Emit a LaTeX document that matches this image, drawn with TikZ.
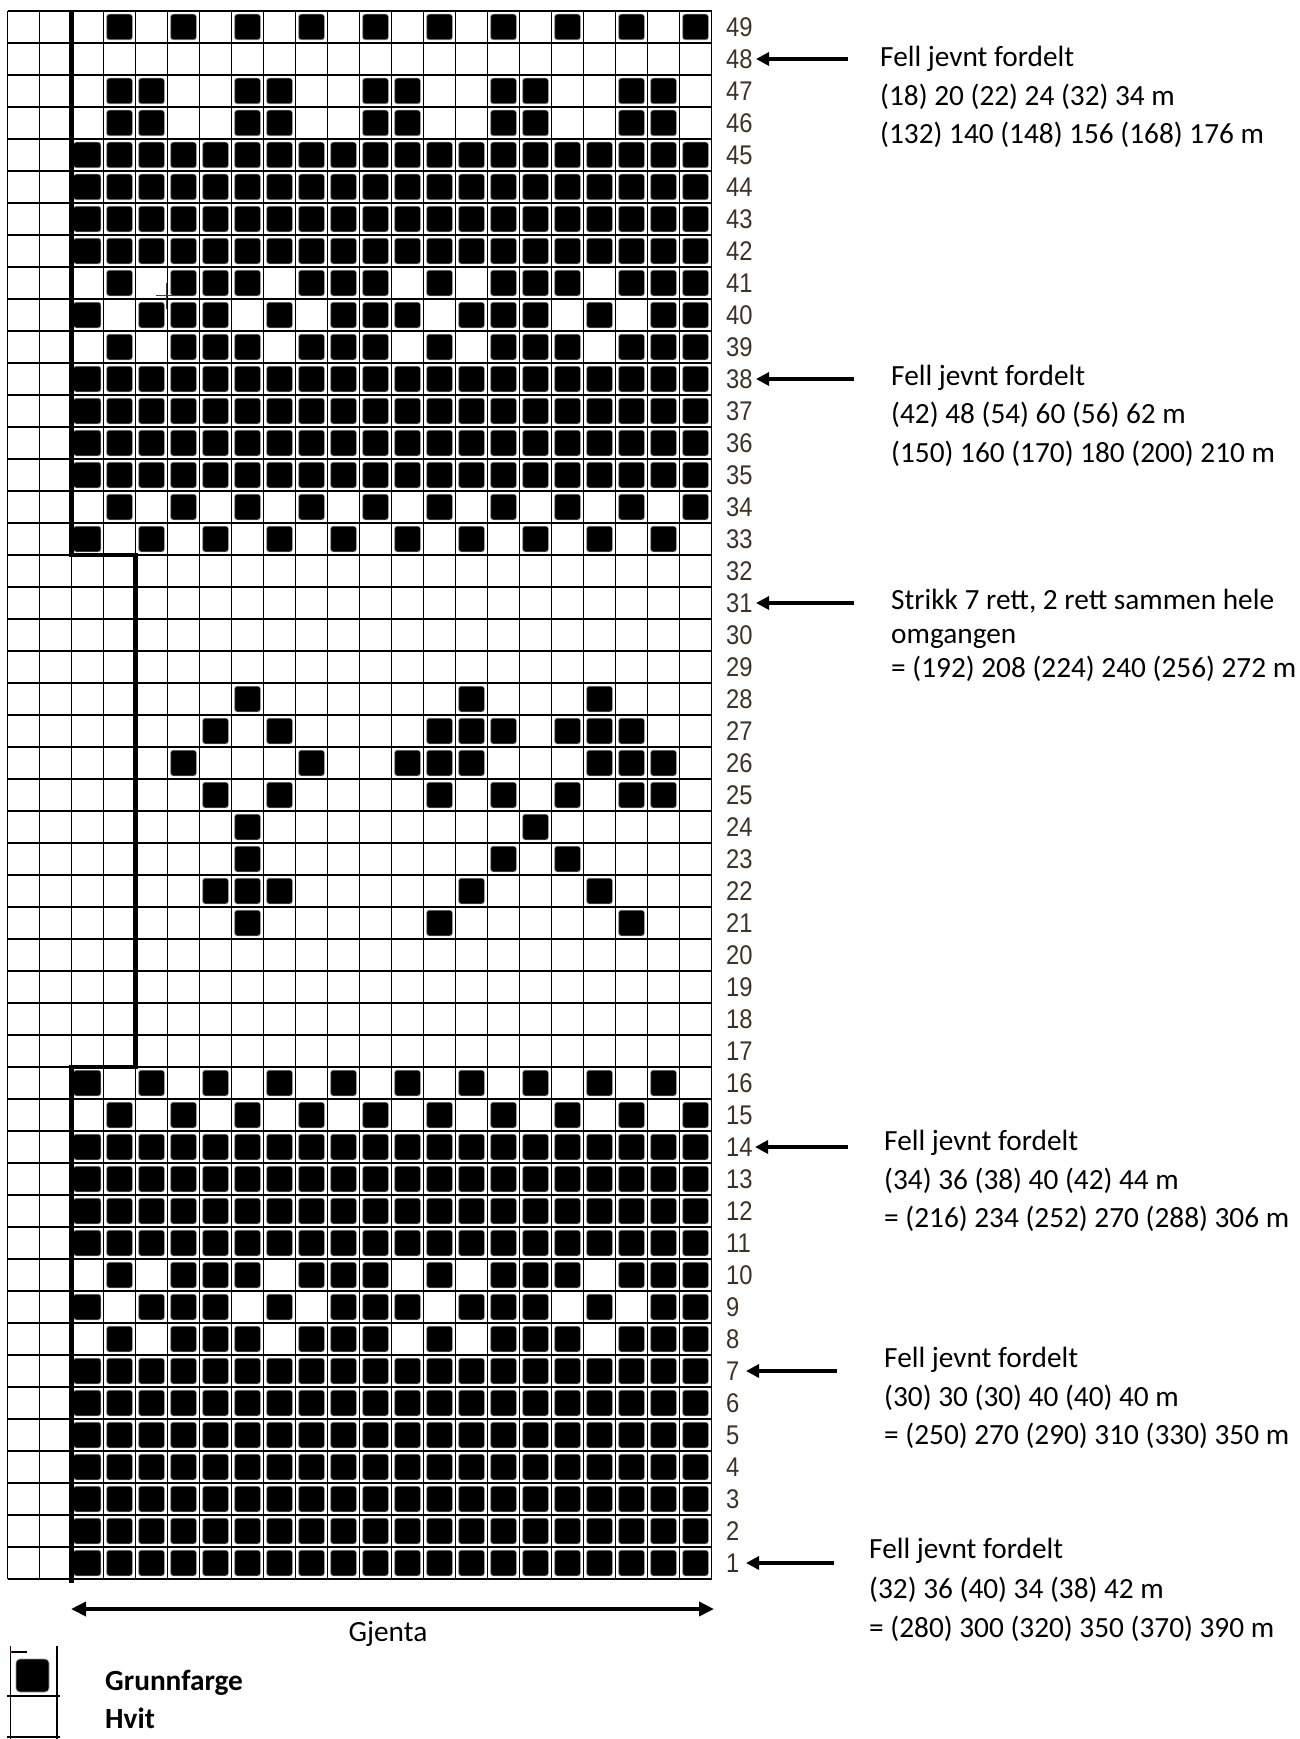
\documentclass[tikz,border=0pt]{standalone}
\usepackage{fontspec}
\setmainfont{Carlito}
\newfontfamily\numfont[FakeStretch=0.88]{Liberation Sans}
\usetikzlibrary{arrows.meta}
\definecolor{numcol}{RGB}{62,50,38}

\newcommand\stitchcell[2]{%
  \pgfmathsetmacro\stx{7.5+(#2+1)*32+3.2}%
  \pgfmathsetmacro\sty{11+(49-#1)*32+3.2}%
  \ifnum#2=1
    \path[stitch] (73.6,\sty) rectangle ++(27.2,25.6);
  \else
    \path[stitch] (\stx,\sty) rectangle ++(25.6,25.6);
  \fi}
\newcommand\stitchrow[2]{\foreach \p in {#2}{\stitchcell{#1}{\p}}}

\begin{document}
\begin{tikzpicture}[x=1pt,y=-1pt,
  gridline/.style={line width=1.5pt, black},
  chartedge/.style={line width=4.6pt, black},
  stitch/.style={fill=black, draw=black!40, line width=0.6pt, rounded corners=2.5pt},
  rownum/.style={anchor=west, inner sep=0pt, font=\numfont\fontsize{27}{27}\selectfont, text=numcol},
  note/.style={anchor=base west, inner sep=0pt, font=\fontsize{29.3}{35}\selectfont},
  legendtext/.style={anchor=base west, inner sep=0pt, font=\bfseries\fontsize{29.3}{35}\selectfont},
  pointer/.style={line width=3.2pt, -{Triangle[length=13pt,width=13pt]}},
  repeatarrow/.style={line width=3.6pt, {Triangle[length=15pt,width=14pt]}-{Triangle[length=15pt,width=14pt]}},
  legendline/.style={line width=1.5pt, black},
]
\fill[white] (0,0) rectangle (1299,1739);
\useasboundingbox (0,0) rectangle (1299,1739);

% ---------- stitches ----------
\stitchrow{49}{2,4,...,20}
\stitchrow{47}{2,3,6,7,10,11,14,15,18,19}
\stitchrow{46}{2,3,6,7,10,11,14,15,18,19}
\foreach \r in {42,...,45} {\stitchrow{\r}{1,...,20}}
\stitchrow{41}{2,4,5,6,8,9,10,12,14,15,16,18,19,20}
\stitchrow{40}{1,3,4,5,7,9,10,11,13,14,15,17,19,20}
\stitchrow{39}{2,4,5,6,8,9,10,12,14,15,16,18,19,20}
\foreach \r in {35,...,38} {\stitchrow{\r}{1,...,20}}
\stitchrow{34}{2,4,...,20}
\stitchrow{33}{1,3,...,19}
\stitchrow{28}{6,13,17}
\stitchrow{27}{5,7,12,13,14,16,17,18}
\stitchrow{26}{4,8,11,12,13,17,18,19}
\stitchrow{25}{5,7,12,14,16,18,19}
\stitchrow{24}{6,15}
\stitchrow{23}{6,14,16}
\stitchrow{22}{5,6,7,13,17}
\stitchrow{21}{6,12,18}
\stitchrow{16}{1,3,...,19}
\stitchrow{15}{2,4,...,20}
\foreach \r in {11,...,14} {\stitchrow{\r}{1,...,20}}
\stitchrow{10}{2,4,5,6,8,9,10,12,14,15,16,18,19,20}
\stitchrow{9}{1,3,4,5,7,9,10,11,13,14,15,17,19,20}
\stitchrow{8}{2,4,5,6,8,9,10,12,14,15,16,18,19,20}
\foreach \r in {1,...,7} {\stitchrow{\r}{1,...,20}}

% ---------- grid ----------
\foreach \i in {0,...,22} {\draw[gridline] ({7.5+\i*32},11) -- ({7.5+\i*32},1579);}
\foreach \j in {0,...,49} {\draw[gridline] (7.5,{11+\j*32}) -- (711.5,{11+\j*32});}

% ---------- repeat edge ----------
\draw[chartedge] (71.5,11) -- (71.5,555) -- (135.5,555) -- (135.5,1067) -- (71.5,1067) -- (71.5,1583);

% cursor cross
\draw[line width=0.9pt, black!75] (166.5,283) -- (166.5,309);
\draw[line width=0.9pt, black!75] (155.5,295.5) -- (177.5,295.5);

% ---------- row numbers ----------
\foreach \r in {1,...,49} {\node[rownum] (n\r) at (726,{27+(49-\r)*32}) {\r};}

% ---------- notes ----------
\node[note] (t48a) at (880,67) {Fell jevnt fordelt};
\node[note] (t48b) at (880,106) {(18) 20 (22) 24 (32) 34 m};
\node[note] (t48c) at (880,144) {(132) 140 (148) 156 (168) 176 m};

\node[note] (t38a) at (891,385) {Fell jevnt fordelt};
\node[note] (t38b) at (891,423) {(42) 48 (54) 60 (56) 62 m};
\node[note] (t38c) at (891,462) {(150) 160 (170) 180 (200) 210 m};

\node[note] (t31a) at (891,609) {Strikk 7 rett, 2 rett sammen hele};
\node[note] (t31b) at (891,643) {omgangen};
\node[note] (t31c) at (891,677) {= (192) 208 (224) 240 (256) 272 m};

\node[note] (t14a) at (884,1150) {Fell jevnt fordelt};
\node[note] (t14b) at (884,1189) {(34) 36 (38) 40 (42) 44 m};
\node[note] (t14c) at (884,1227) {= (216) 234 (252) 270 (288) 306 m};

\node[note] (t7a) at (884,1367) {Fell jevnt fordelt};
\node[note] (t7b) at (884,1406) {(30) 30 (30) 40 (40) 40 m};
\node[note] (t7c) at (884,1444) {= (250) 270 (290) 310 (330) 350 m};

\node[note] (t1a) at (869,1558) {Fell jevnt fordelt};
\node[note] (t1b) at (869,1598) {(32) 36 (40) 34 (38) 42 m};
\node[note] (t1c) at (869,1637) {= (280) 300 (320) 350 (370) 390 m};

% ---------- pointers ----------
\coordinate (s48) at (848,59);   \coordinate (h48) at (756,59);
\coordinate (s38) at (854,379);  \coordinate (h38) at (756,379);
\coordinate (s31) at (854,603);  \coordinate (h31) at (756,603);
\coordinate (s14) at (848,1147); \coordinate (h14) at (755,1147);
\coordinate (s7) at (837,1371);  \coordinate (h7) at (746,1371);
\coordinate (s1) at (834,1563);  \coordinate (h1) at (746,1563);
\foreach \k in {48,38,31,14,7,1} {\draw[pointer] (s\k) -- (h\k);}

% ---------- repeat arrow ----------
\coordinate (gl) at (71,1609);
\coordinate (gr) at (714,1609);
\draw[repeatarrow] (gl) -- (gr);
\node[inner sep=0pt, font=\fontsize{29.3}{35}\selectfont] (gjenta) at (388,1634) {Gjenta};

% ---------- legend ----------
\draw[legendline] (10.5,1646) -- (10.5,1739);
\draw[legendline] (57,1646) -- (57,1739);
\draw[legendline] (10.5,1652) -- (27,1652);
\draw[legendline] (7,1696) -- (60,1696);
\draw[legendline] (7,1737) -- (60,1737);
\fill[red] (11,1652) circle (1.2);
\path[stitch, rounded corners=4pt] (16,1659) rectangle (49,1692);
\node[legendtext] (lg1) at (105,1690) {Grunnfarge};
\node[legendtext] (lg2) at (105,1728) {Hvit};
\end{tikzpicture}
\end{document}
